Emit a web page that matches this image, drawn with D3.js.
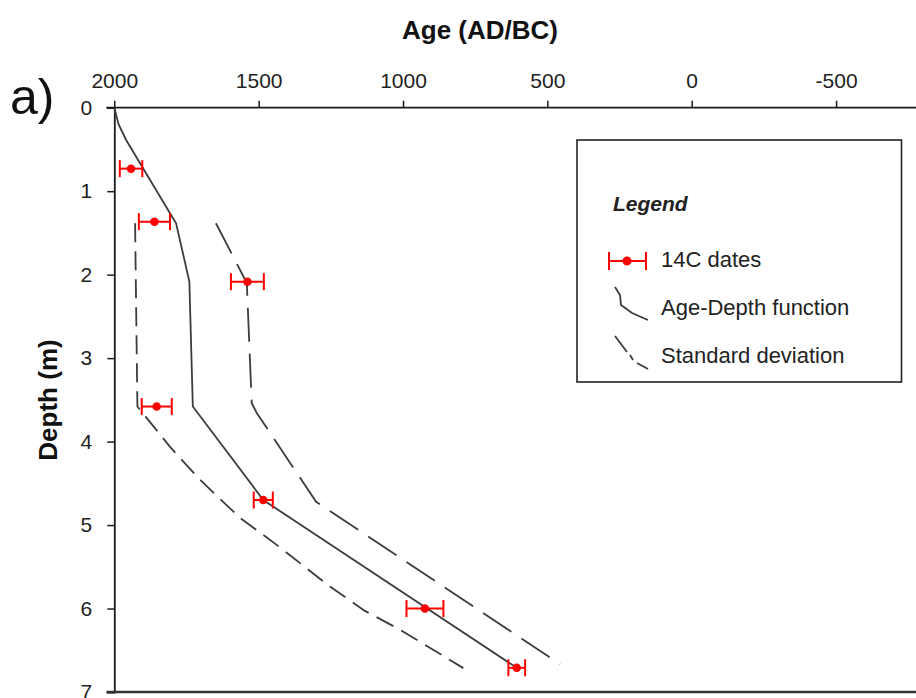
<!DOCTYPE html>
<html>
<head>
<meta charset="utf-8">
<script src="https://cdn.jsdelivr.net/npm/d3@7"></script>
<style>
body { margin: 0; background: #fff; }
svg { display: block; font-family: "Liberation Sans", Arial, sans-serif; }
</style>
</head>
<body>
<svg id="chart" width="916" height="698"></svg>
<script>
// 14C dates: age (AD/BC), depth (m), 1 sigma error in years
var dateAge   = [1942, 1861, 1539, 1853, 1484, 924, 606];
var dateDepth = [0.73, 1.365, 2.084, 3.58, 4.70, 6.0, 6.71];
var dateErr   = [39, 54, 57, 52, 33, 64, 29];

// age-depth function
var fnAge   = [2000, 1985, 1959, 1807, 1786, 1740, 1728, 1484, 606];
var fnDepth = [0, 0.2, 0.387, 1.265, 1.384, 2.084, 3.58, 4.70, 6.71];

// standard deviation, young side
var sdLoAge   = [1928, 1920, 1905, 1807, 1703, 1565, 1433, 1253, 1132, 1010, 791];
var sdLoDepth = [1.384, 3.58, 3.644, 4.063, 4.458, 4.913, 5.249, 5.737, 6.028, 6.255, 6.714];

// standard deviation, old side
var sdHiAge   = [1648, 1541, 1524, 1506, 1301, 456];
var sdHiDepth = [1.384, 2.10, 3.54, 3.66, 4.722, 6.666];

var ageTicks = [2000, 1500, 1000, 500, 0, -500];
var depthTicks = [0, 1, 2, 3, 4, 5, 6, 7];
var legendLabels = ['14C dates', 'Age-Depth function', 'Standard deviation'];

var svg = d3.select('#chart');
var lineColor = '#3c3c3c';

var x = d3.scaleLinear().domain([2000, -1000]).range([114.3, 980.4]);
var y = d3.scaleLinear().domain([0, 7]).range([107.7, 692]);

// axes
var plain = function(d) {return String(d);}; // keep ascii hyphen for -500
var topAxis = d3.axisTop(x).tickValues(ageTicks).tickSize(7).tickPadding(13).tickFormat(plain);
var leftAxis = d3.axisLeft(y).tickValues(depthTicks).tickSize(7).tickPadding(15).tickFormat(plain);

var gTop = svg.append('g').attr('transform', 'translate(0,' + y(0) + ')').call(topAxis);
var gLeft = svg.append('g').attr('transform', 'translate(' + x(2000) + ',0)').call(leftAxis);
[gTop, gLeft].forEach(function(g) {
	g.select('.domain').attr('stroke', '#1a1a1a').attr('stroke-width', 1.8);
	g.selectAll('.tick line').attr('stroke', '#1a1a1a').attr('stroke-width', 1.5);
	g.selectAll('.tick text').attr('fill', '#222').style('font-size', '21px')
		.style('font-family', '"Liberation Sans", Arial, sans-serif');
});
gTop.select('.domain').attr('d', 'M' + (x(2000) - 8) + ',0H980');

// bottom frame line
svg.append('line')
	.attr('x1', x(2000) - 8).attr('x2', 916)
	.attr('y1', y(7)).attr('y2', y(7))
	.attr('stroke', '#333').attr('stroke-width', 2.4);

// titles
svg.append('text').attr('x', 480).attr('y', 39).attr('text-anchor', 'middle')
	.style('font-size', '26px').style('font-weight', 'bold').attr('fill', '#111')
	.text('Age (AD/BC)');
svg.append('text').attr('transform', 'translate(57,400) rotate(-90)').attr('text-anchor', 'middle')
	.style('font-size', '26px').style('font-weight', 'bold').attr('fill', '#111')
	.text('Depth (m)');
svg.append('text').attr('x', 10).attr('y', 114)
	.style('font-size', '50px').attr('fill', '#111')
	.text('a)');

// curves
var line = d3.line()
	.x(function(d) {return x(d[0]);})
	.y(function(d) {return y(d[1]);});

function pairs(a, b) {
	return a.map(function(v, i) {return [v, b[i]];});
}

var curves = svg.append('g').attr('fill', 'none').attr('stroke', lineColor).attr('stroke-width', 1.8);
curves.append('path').attr('d', line(pairs(fnAge, fnDepth)));
curves.append('path').attr('d', line(pairs(sdLoAge, sdLoDepth))).attr('stroke-dasharray', '19,9');
curves.append('path').attr('d', line(pairs(sdHiAge, sdHiDepth))).attr('stroke-dasharray', '34,12');

// 14C dates with error bars
var dates = dateAge.map(function(a, i) {return {age: a, depth: dateDepth[i], err: dateErr[i]};});
var capH = 8.5;
var gd = svg.append('g').attr('stroke', '#ff0000').attr('stroke-width', 2).attr('fill', '#ff0000');
var pt = gd.selectAll('g.date').data(dates).enter().append('g').attr('class', 'date');
pt.append('line')
	.attr('x1', function(d) {return x(d.age + d.err);})
	.attr('x2', function(d) {return x(d.age - d.err);})
	.attr('y1', function(d) {return y(d.depth);})
	.attr('y2', function(d) {return y(d.depth);});
pt.append('line')
	.attr('x1', function(d) {return x(d.age + d.err);})
	.attr('x2', function(d) {return x(d.age + d.err);})
	.attr('y1', function(d) {return y(d.depth) - capH;})
	.attr('y2', function(d) {return y(d.depth) + capH;});
pt.append('line')
	.attr('x1', function(d) {return x(d.age - d.err);})
	.attr('x2', function(d) {return x(d.age - d.err);})
	.attr('y1', function(d) {return y(d.depth) - capH;})
	.attr('y2', function(d) {return y(d.depth) + capH;});
pt.append('circle')
	.attr('cx', function(d) {return x(d.age);})
	.attr('cy', function(d) {return y(d.depth);})
	.attr('r', 3.5).attr('stroke-width', 1.5);

// legend
var lg = svg.append('g').attr('transform', 'translate(577,140)');
lg.append('rect').attr('width', 324.5).attr('height', 242)
	.attr('fill', '#fff').attr('stroke', '#222').attr('stroke-width', 1.6);
lg.append('text').attr('x', 36).attr('y', 71)
	.style('font-size', '21px').style('font-weight', 'bold').style('font-style', 'italic')
	.attr('fill', '#222').text('Legend');
var rowY = [127, 175, 223];
lg.selectAll('text.item').data(legendLabels).enter().append('text').attr('class', 'item')
	.attr('x', 84).attr('y', function(d, i) {return rowY[i];})
	.style('font-size', '22px').attr('fill', '#222')
	.text(function(d) {return d;});

var sym = lg.append('g').attr('stroke', '#ff0000').attr('stroke-width', 2).attr('fill', '#ff0000');
sym.append('line').attr('x1', 32).attr('x2', 69).attr('y1', 121).attr('y2', 121);
sym.append('line').attr('x1', 32).attr('x2', 32).attr('y1', 112).attr('y2', 130);
sym.append('line').attr('x1', 69).attr('x2', 69).attr('y1', 112).attr('y2', 130);
sym.append('circle').attr('cx', 50).attr('cy', 121).attr('r', 3.5);

lg.append('path').attr('d', 'M38,147 L43,155 L44,165 L55,173 L71,180')
	.attr('fill', 'none').attr('stroke', lineColor).attr('stroke-width', 1.8);
lg.append('path').attr('d', 'M38,196 L50,212 M53,215 L56,220 M60,223 L71,229')
	.attr('fill', 'none').attr('stroke', lineColor).attr('stroke-width', 1.8);
</script>
</body>
</html>
